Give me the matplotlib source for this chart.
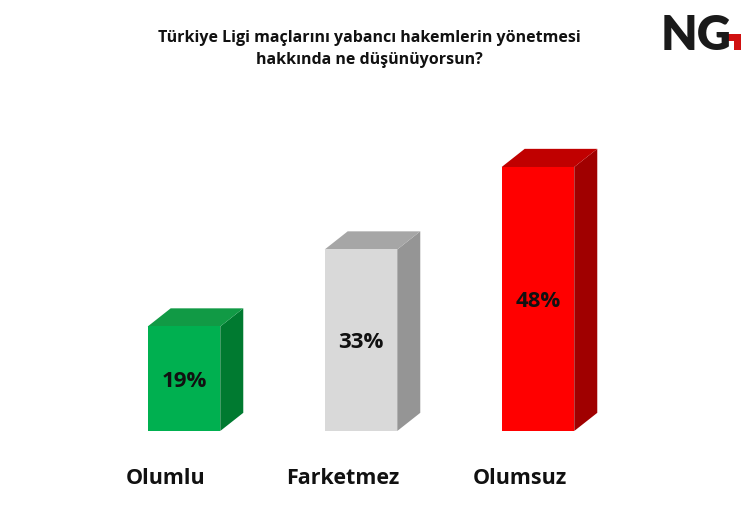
import matplotlib
matplotlib.use("Agg")
from matplotlib import pyplot as plt
from matplotlib.patches import Polygon, Rectangle

# data
categories = ["Olumlu", "Farketmez", "Olumsuz"]
values = [19, 33, 48]
labels = ["19%", "33%", "48%"]
front_colors = ["#00b050", "#d9d9d9", "#ff0000"]
top_colors = ["#119a45", "#a6a6a6", "#c00000"]
side_colors = ["#007a30", "#959595", "#a00000"]

title = "Türkiye Ligi maçlarını yabancı hakemlerin yönetmesi\nhakkında ne düşünüyorsun?"

plt.rcParams["font.family"] = ["Open Sans", "DejaVu Sans"]

fig = plt.figure(figsize=(7.5, 5.19), dpi=100)
fig.patch.set_facecolor("white")

ax = fig.add_axes([0.0565, 0.1696, 0.8496, 0.6358])
ax.set_xlim(-0.8, 2.8)
ax.set_ylim(0, 60)
ax.axis("off")

w = 0.41      # bar width
dx = 0.13     # depth to the right
dy = 3.3      # depth upwards

for i, v in enumerate(values):
    x0, x1 = i - w / 2, i + w / 2
    # side face
    ax.add_patch(Polygon([(x1, 0), (x1 + dx, dy), (x1 + dx, v + dy), (x1, v)],
                         closed=True, facecolor=side_colors[i], edgecolor="none"))
    # top face
    ax.add_patch(Polygon([(x0, v), (x0 + dx, v + dy), (x1 + dx, v + dy), (x1, v)],
                         closed=True, facecolor=top_colors[i], edgecolor="none"))
    # front face
    ax.add_patch(Rectangle((x0, 0), w, v, facecolor=front_colors[i], edgecolor="none"))
    ax.text(i, v / 2 - 0.5, labels[i], ha="center", va="center",
            fontsize=16, fontweight="bold", color="#111111")
    # category labels sit a bit left of the bar centres
    ax.text(i - 0.105, -8.6, categories[i], ha="center", va="center",
            fontsize=15.5, fontweight="bold", color="#111111")

fig.text(0.493, 0.905, title, ha="center", va="center", fontsize=11.5,
         fontweight="bold", color="#111111", linespacing=1.5)

# logo
fig.text(0.928, 0.93, "NG", ha="center", va="center", fontsize=34,
         fontweight="heavy", color="#1a1a1a", family=["Lato", "DejaVu Sans"])
hook = [(722, 34), (741, 34), (741, 50), (734, 50), (734, 41), (722, 41)]
fig.patches.append(Polygon([(px / 750, 1 - py / 519) for px, py in hook],
                           closed=True, transform=fig.transFigure,
                           facecolor="#d01010", edgecolor="none", figure=fig))

fig.savefig("out.png", dpi=100, facecolor="white")
